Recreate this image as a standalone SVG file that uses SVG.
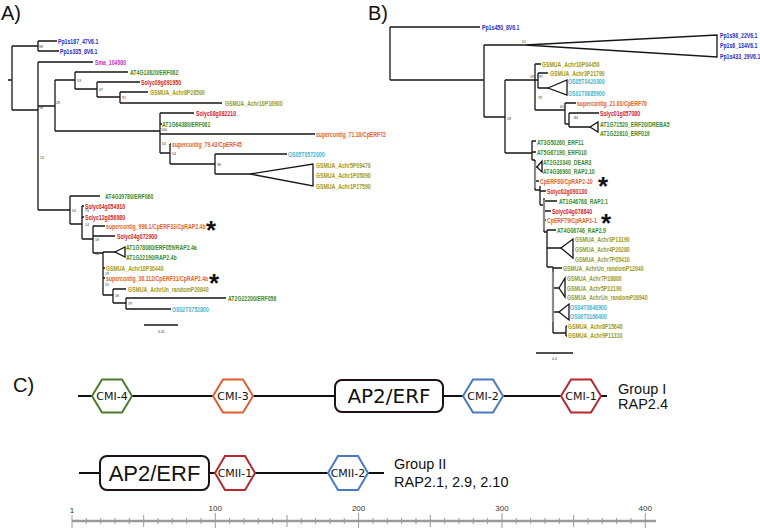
<svg xmlns="http://www.w3.org/2000/svg" width="760" height="528" viewBox="0 0 760 528">
<style>
.bg{fill:#fff}
.e{fill:none;stroke:#161616;stroke-width:1.3}
.eg{fill:none;stroke:#8a8a8a;stroke-width:2.2}
.l{font-family:"Liberation Sans",Arial,sans-serif;font-weight:bold;font-size:7.3px}
.pp{fill:#2828c4}.sm{fill:#c42fc4}.at{fill:#3d8a27}.so{fill:#d02424}.gs{fill:#9c9a24}.cp{fill:#e0642a}.os{fill:#3fb6cf}
.bs{font-family:"Liberation Sans",Arial,sans-serif;font-size:3.5px;fill:#333}
.pl{font-family:"Liberation Sans",Arial,sans-serif;font-size:20px;fill:#111}
.ast{font-family:"Liberation Sans",Arial,sans-serif;font-weight:bold;font-size:26px;fill:#111;text-anchor:middle}
.hx{fill:#fff;stroke-width:2}
.cm{font-family:"DejaVu Sans",sans-serif;font-size:11px;fill:#111;text-anchor:middle}
.grp{font-family:"Liberation Sans",Arial,sans-serif;font-size:14.5px;fill:#111}
.box{fill:#fff;stroke:#1e1217;stroke-width:2}
.bb{fill:none;stroke:#111;stroke-width:2}
.rl{fill:none;stroke:#9a9a9a;stroke-width:2.5}
.tk{fill:none;stroke:#9a9a9a;stroke-width:1}
.rn{font-family:"Liberation Sans",Arial,sans-serif;font-size:8px;fill:#333;text-anchor:middle}
</style>
<rect class="bg" width="760" height="528"/>
<text class="pl" x="1" y="20">A)</text>
<text class="pl" x="368" y="20">B)</text>
<text class="pl" x="13" y="392">C)</text>

<g id="connectors">
<path class="e" d="M8 80H12M12 46V110M12 46H38M38 41V51M38 41H57M38 51H59M12 110H38M38 62V210M38 62H93M38 106H55M55 80V131M55 80H75M75 72V89M75 72H128M75 89H97M97 82V97M97 82H140M97 97H120M120 92V103M120 92H148M120 103H222M55 131H160M160 113V153M160 113H194M160 124H162M160 134H315M160 153H170M170 144V164M170 144H171M170 164H215M215 154V174M215 154H287M215 174H250M38 210H70M70 196V224M70 196H100M70 224H82M82 206V239M82 206H84M82 217H84M82 239H93M93 226V253M93 226H105M93 236H115M93 253H103M103 252V295M103 252H115M103 268H105M103 278H105M103 295H113M113 289V303M113 289H126M113 303H126M126 298V309M126 298H226M126 309H171"/>
<path class="e" d="M250 174L313 164V186Z M115 252L125 247V257Z"/>
<path class="e" d="M144 325H178"/>
<path class="e" d="M390 27V80M390 27H480M390 80H484M484 45V117M484 45H525M484 117H505M505 80V153M505 80H535M535 64V110M535 64H541M535 80H538M538 73V88M538 73H548M538 88H548M535 110H565M565 103V124M565 103H576M565 124H569M569 113V127M569 113H599M569 127H590M505 153H532M532 141V160M532 141H536M532 152H536"/>
<path class="e" d="M525 45L717 35V57Z M548 88L567 80V95Z M590 127L598 122V132Z"/>
<path class="e" d="M532 160H535M535 160V190M535 167H537M535 181H539M535 190H540M540 186V205M540 191H546M540 205H544M544 198V232M544 201H557M544 211H551M544 220H546M544 232H547M547 230V267M547 230H556M547 248H561M547 267H553M553 267V333M553 268H562M553 288H559M553 312H559M553 333H566M566 326V336M566 326H567M566 336H567"/>
<path class="eg" d="M535 162V188M544 200V230M553 272V322"/>
<path class="e" d="M537 167L542 161V172Z M561 248L573 239V258Z M559 288L565 278V297Z M559 312L569 304V320Z"/>
<path class="e" d="M536 353H573"/>
</g>

<g class="bs">
<text x="39" y="48">98</text><text x="39" y="109">98</text><text x="56" y="104">28</text><text x="77" y="82">53</text><text x="99" y="91">47</text><text x="122" y="99">91</text><text x="161" y="131">100</text><text x="162" y="145">53</text><text x="172" y="155">54</text><text x="217" y="166">96</text><text x="40" y="159">13</text><text x="72" y="212">54</text><text x="85" y="212">73</text><text x="85" y="226">14</text><text x="95" y="241">18</text><text x="95" y="255">16</text><text x="105" y="275">19</text><text x="105" y="285.5">15</text><text x="115" y="297">58</text><text x="128" y="305">79</text>
<text x="158" y="333">0.01</text>
<text x="522" y="43">51</text><text x="507" y="120">58</text><text x="530" y="78">59</text><text x="539" y="78">97</text><text x="538" y="99">78</text><text x="560" y="108">65</text><text x="574" y="119">84</text>
<text x="552" y="360">0.4</text>
</g>

<g class="l" transform="scale(0.71 1)">
<g id="a1"><text class="pp" x="81.69" y="43.6">Pp1s187_47V6.1</text></g>
<g id="a2"><text class="pp" x="84.51" y="53.6">Pp1s335_8V6.1</text></g>
<g id="a3"><text class="sm" x="133.8" y="64.6">Sma_104980</text></g>
<g id="a4"><text class="at" x="183.1" y="74.6">AT4G13620/ERF062</text></g>
<g id="a5"><text class="so" x="198.59" y="84.6">Solyc09g091950</text></g>
<g id="a6"><text class="gs" x="211.27" y="94.6">GSMUA_Achr8P28500</text></g>
<g id="a7"><text class="gs" x="316.9" y="105.6">GSMUA_Achr10P16900</text></g>
<g id="a8"><text class="so" x="276.06" y="115.6">Solyc08g082210</text></g>
<g id="a9"><text class="at" x="228.17" y="126.6">AT1G64380/ERF061</text></g>
<g id="a10"><text class="cp" x="445.07" y="136.6">supercontig_71.10/CpERF72</text></g>
<g id="a11"><text class="cp" x="242.25" y="146.6">supercontig_79.43/CpERF45</text></g>
<g id="a12"><text class="os" x="405.63" y="156.6">OS05T0572000</text></g>
<g id="a13"><text class="gs" x="445.07" y="167.6">GSMUA_Achr5P09470</text></g>
<g id="a14"><text class="gs" x="445.07" y="177.6">GSMUA_Achr1P05090</text></g>
<g id="a15"><text class="gs" x="445.07" y="188.6">GSMUA_Achr1P27590</text></g>
<g id="a16"><text class="at" x="147.89" y="198.6">AT4G39780/ERF060</text></g>
<g id="a17"><text class="so" x="119.72" y="208.6">Solyc04g054910</text></g>
<g id="a18"><text class="so" x="119.72" y="219.6">Solyc12g056980</text></g>
<g id="a19"><text class="cp" x="149.3" y="228.6">supercontig_996.1/CpERF33/CpRAP2.4b</text></g>
<g id="a20"><text class="so" x="164.79" y="238.6">Solyc04g072900</text></g>
<g id="a21"><text class="at" x="177.46" y="249.6">AT1G78080/ERF059/RAP2.4a</text></g>
<g id="a22"><text class="at" x="177.46" y="259.6">AT1G22190/RAP2.4b</text></g>
<g id="a23"><text class="gs" x="149.3" y="270.6">GSMUA_Achr10P30440</text></g>
<g id="a24"><text class="cp" x="149.3" y="280.6">supercontig_36.112/CpERF31/CpRAP2.4a</text></g>
<g id="a25"><text class="gs" x="180.28" y="291.6">GSMUA_AchrUn_randomP20840</text></g>
<g id="a26"><text class="at" x="321.13" y="300.6">AT2G22200/ERF056</text></g>
<g id="a27"><text class="os" x="242.25" y="311.6">OS02T0752800</text></g>

<g id="b1"><text class="pp" x="678.87" y="29.6">Pp1s450_8V6.1</text></g>
<g id="b2"><text class="pp" x="1014.08" y="37.6">Pp1s98_22V6.1</text></g>
<g id="b3"><text class="pp" x="1014.08" y="47.6">Pp1s6_134V6.1</text></g>
<g id="b4"><text class="pp" x="1014.08" y="58.6">Pp1s433_29V6.1</text></g>
<g id="b5"><text class="gs" x="763.38" y="66.6">GSMUA_Achr10P04450</text></g>
<g id="b6"><text class="gs" x="774.65" y="75.6">GSMUA_Achr3P21790</text></g>
<g id="b7"><text class="os" x="800" y="83.6">OS05T0420300</text></g>
<g id="b8"><text class="os" x="800" y="95.6">OS01T0685900</text></g>
<g id="b9"><text class="cp" x="812.68" y="105.6">supercontig_21.63/CpERF70</text></g>
<g id="b10"><text class="so" x="845.07" y="115.6">Solyc01g057080</text></g>
<g id="b11"><text class="at" x="845.07" y="126.6">AT1G71520_ERF20/DREBA5</text></g>
<g id="b12"><text class="at" x="845.07" y="135.6">AT1G22810_ERF019</text></g>
<g id="b13"><text class="at" x="756.34" y="144.6">AT3G50260_ERF11</text></g>
<g id="b14"><text class="at" x="756.34" y="154.6">AT5G67190_ERF010</text></g>
<g id="b15"><text class="at" x="764.79" y="164.6">AT2G23340_DEAR3</text></g>
<g id="b16"><text class="at" x="764.79" y="173.6">AT4G36900_RAP2.10</text></g>
<g id="b17"><text class="cp" x="760.56" y="183.6">CpERF80/CpRAP2-10</text></g>
<g id="b18"><text class="so" x="770.42" y="193.6">Solyc02g093130</text></g>
<g id="b19"><text class="at" x="787.32" y="203.6">AT1G46768_RAP2.1</text></g>
<g id="b20"><text class="so" x="777.46" y="213.6">Solyc04g078640</text></g>
<g id="b21"><text class="cp" x="770.42" y="222.6">CpERF79/CpRAP2-1</text></g>
<g id="b22"><text class="at" x="784.51" y="232.6">AT4G06746_RAP2.9</text></g>
<g id="b23"><text class="gs" x="809.86" y="241.6">GSMUA_Achr3P13190</text></g>
<g id="b24"><text class="gs" x="809.86" y="251.6">GSMUA_Achr4P20280</text></g>
<g id="b25"><text class="gs" x="809.86" y="261.6">GSMUA_Achr7P05410</text></g>
<g id="b26"><text class="gs" x="792.96" y="270.6">GSMUA_AchrUn_randomP12040</text></g>
<g id="b27"><text class="gs" x="798.59" y="280.6">GSMUA_Achr7P28800</text></g>
<g id="b28"><text class="gs" x="798.59" y="290.6">GSMUA_Achr5P22190</text></g>
<g id="b29"><text class="gs" x="798.59" y="299.6">GSMUA_AchrUn_randomP28940</text></g>
<g id="b30"><text class="os" x="802.82" y="309.6">OS04T0648900</text></g>
<g id="b31"><text class="os" x="802.82" y="318.6">OS06T0166400</text></g>
<g id="b32"><text class="gs" x="800" y="328.6">GSMUA_Achr8P15640</text></g>
<g id="b33"><text class="gs" x="800" y="337.6">GSMUA_Achr9P11310</text></g>
</g>

<text class="ast" x="211" y="239">*</text>
<text class="ast" x="214" y="292">*</text>
<text class="ast" x="603" y="195">*</text>
<text class="ast" x="606" y="232">*</text>

<g id="row1">
<path class="bb" d="M78 396H607"/>
<g id="cmi4"><polygon class="hx" stroke="#4e7a2e" points="92,396 102,379.5 122,379.5 132,396 122,412.5 102,412.5"/><text class="cm" x="112" y="400">CMI-4</text></g>
<g id="cmi3"><polygon class="hx" stroke="#e0602e" points="213,396 223,379.5 243,379.5 253,396 243,412.5 223,412.5"/><text class="cm" x="233" y="400">CMI-3</text></g>
<g id="ap2a"><rect class="box" x="335" y="380" width="108" height="32" rx="7"/><text x="389" y="403" text-anchor="middle" font-family="DejaVu Sans, sans-serif" font-size="20" fill="#111">AP2/ERF</text></g>
<g id="cmi2"><polygon class="hx" stroke="#4a78c8" points="463,396 473,379.5 493,379.5 503,396 493,412.5 473,412.5"/><text class="cm" x="483" y="400">CMI-2</text></g>
<g id="cmi1"><polygon class="hx" stroke="#b8282e" points="561,396 571,379.5 591,379.5 601,396 591,412.5 571,412.5"/><text class="cm" x="581" y="400">CMI-1</text></g>
<g id="g1"><text class="grp" x="618" y="394">Group I</text><text class="grp" x="618" y="409">RAP2.4</text></g>
</g>

<g id="row2">
<path class="bb" d="M79 473H384"/>
<g id="ap2b"><rect class="box" x="100" y="456" width="109" height="34" rx="7"/><text x="154.5" y="481" text-anchor="middle" font-family="Liberation Sans, Arial, sans-serif" font-size="22" fill="#111">AP2/ERF</text></g>
<g id="cmii1"><polygon class="hx" stroke="#b8282e" points="215,473 225,456 245,456 255,473 245,490 225,490"/><text class="cm" x="235" y="477">CMII-1</text></g>
<g id="cmii2"><polygon class="hx" stroke="#4a78c8" points="328,473 338,456 358,456 368,473 358,490 338,490"/><text class="cm" x="348" y="477">CMII-2</text></g>
<g id="g2"><text class="grp" x="394" y="469">Group II</text><text class="grp" x="394" y="487">RAP2.1, 2.9, 2.10</text></g>
</g>

<g id="ruler">
<path class="rl" d="M72 521H656"/>
<path class="tk" d="M72 515V528M86.3 518V524M100.7 518V524M115 518V524M129.3 518V524M143.7 515V527M158 518V524M172.3 518V524M186.6 518V524M201 518V524M215.3 513V528M229.6 518V524M244 518V524M258.3 518V524M272.6 518V524M287 515V527M301.3 518V524M315.6 518V524M330 518V524M344.3 518V524M358.6 513V528M373 518V524M387.3 518V524M401.6 518V524M416 518V524M430.3 515V527M444.6 518V524M459 518V524M473.3 518V524M487.6 518V524M502 513V528M516.3 518V524M530.6 518V524M545 518V524M559.3 518V524M573.6 515V527M588 518V524M602.3 518V524M616.6 518V524M631 518V524M645.3 513V528"/>
<text class="rn" x="72" y="513">1</text>
<text class="rn" x="215.3" y="511">100</text>
<text class="rn" x="358.6" y="511">200</text>
<text class="rn" x="502" y="511">300</text>
<text class="rn" x="645.3" y="511">400</text>
</g>
</svg>
